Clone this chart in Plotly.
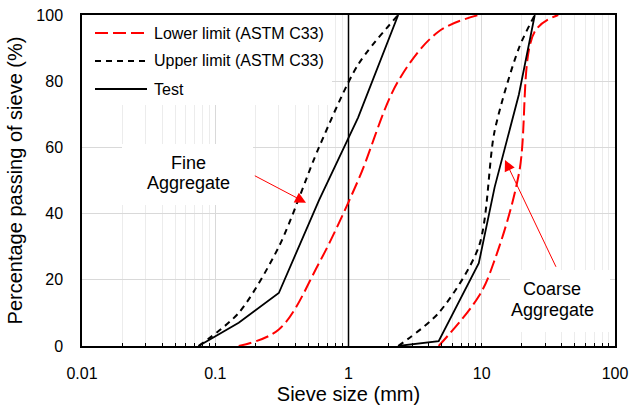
import math
import plotly.graph_objects as go

# Sieve grading data (sieve opening in mm, percentage passing)
fine_lower_sieve = [0.15, 0.3, 0.6, 1.18, 2.36, 4.75, 9.5]
fine_lower_pass = [0, 5, 25, 50, 80, 95, 100]
coarse_lower_sieve = [4.75, 9.5, 12.5, 19, 25, 37.5]
coarse_lower_pass = [0, 15, 26, 52, 95, 100]

fine_upper_sieve = [0.075, 0.15, 0.3, 0.6, 1.18, 2.36]
fine_upper_pass = [0, 10, 30, 60, 85, 100]
coarse_upper_sieve = [2.36, 4.75, 9.5, 12.5, 19, 25]
coarse_upper_pass = [0, 10, 30, 65, 90, 100]

fine_test_sieve = [0.075, 0.15, 0.3, 0.6, 1.18, 2.36]
fine_test_pass = [0, 7, 16, 44, 69, 100]
coarse_test_sieve = [2.36, 4.75, 9.5, 12.5, 19, 25]
coarse_test_pass = [0, 1.5, 25, 48, 76, 100]

# divider between fine and coarse fractions
divider_sieve = [1, 1]
divider_pass = [0, 100]

x_tick_vals = [0.01, 0.1, 1, 10, 100]
x_tick_text = ["0.01", "0.1", "1", "10", "100"]
y_tick_vals = [0, 20, 40, 60, 80, 100]

series_names = ["Lower limit (ASTM C33)", "Upper limit (ASTM C33)", "Test"]

FONT = "Liberation Sans, Arial, sans-serif"
RED = "#ff0000"

LOWER_LINE = dict(color=RED, width=2, dash="13px,5px")
UPPER_LINE = dict(color="black", width=2, dash="6px,5px")
TEST_LINE = dict(color="black", width=1.8)

# plot-area geometry in pixels
W, H = 631, 410
L, R, T, B = 82, 16, 15, 64
PW, PH = W - L - R, H - T - B
X_LOG_MIN, X_LOG_MAX = -2, 2


def px(xp):
    return (xp - L) / PW


def py(yp):
    return (H - B - yp) / PH


def to_data_x(xp):
    return 10 ** (X_LOG_MIN + px(xp) * (X_LOG_MAX - X_LOG_MIN))


def to_data_y(yp):
    return py(yp) * 100


def joined(xa, ya, xb, yb):
    return xa + [None] + xb, ya + [None] + yb


fig = go.Figure()

# white panels behind legend and labels: hide gridlines, stay under the curves
for x0, x1, y0, y1 in [(82, 332, 15, 105), (122, 253, 144, 205), (510, 610, 270, 332)]:
    bx = [to_data_x(v) for v in (x0, x1, x1, x0, x0)]
    by = [to_data_y(v) for v in (y0, y0, y1, y1, y0)]
    fig.add_trace(go.Scatter(x=bx, y=by, mode="lines", fill="toself",
                             fillcolor="white", line=dict(width=0, color="white"),
                             showlegend=False, hoverinfo="skip"))

lx, ly = joined(fine_lower_sieve, fine_lower_pass, coarse_lower_sieve, coarse_lower_pass)
ux, uy = joined(fine_upper_sieve, fine_upper_pass, coarse_upper_sieve, coarse_upper_pass)
tx, ty = joined(fine_test_sieve, fine_test_pass, coarse_test_sieve, coarse_test_pass)

fig.add_trace(go.Scatter(x=divider_sieve, y=divider_pass, mode="lines",
                         line=dict(color="black", width=1.5), showlegend=False,
                         hoverinfo="skip"))
fig.add_trace(go.Scatter(x=lx, y=ly, mode="lines", name=series_names[0],
                         line=dict(shape="spline", smoothing=1, **LOWER_LINE),
                         connectgaps=False, showlegend=False))
fig.add_trace(go.Scatter(x=ux, y=uy, mode="lines", name=series_names[1],
                         line=dict(shape="spline", smoothing=0.8, **UPPER_LINE),
                         connectgaps=False, showlegend=False))
fig.add_trace(go.Scatter(x=tx, y=ty, mode="lines", name=series_names[2],
                         line=TEST_LINE, connectgaps=False, showlegend=False))

shapes = []
annotations = []
# legend
legend_styles = [LOWER_LINE, UPPER_LINE, TEST_LINE]
for i, (name, style) in enumerate(zip(series_names, legend_styles)):
    yrow = 33 + i * 28
    shapes.append(dict(type="line", xref="paper", yref="paper",
                       x0=px(95), x1=px(147), y0=py(yrow), y1=py(yrow),
                       line=style, layer="above"))
    annotations.append(dict(xref="paper", yref="paper", x=px(152), y=py(yrow),
                            xanchor="left", yanchor="middle", showarrow=False,
                            text=name, font=dict(family=FONT, size=16, color="black")))

# region labels
for text, cx, cy in [("Fine", 188, 163), ("Aggregate", 188, 183),
                     ("Coarse", 552, 289), ("Aggregate", 552, 310)]:
    annotations.append(dict(xref="paper", yref="paper", x=px(cx), y=py(cy),
                            xanchor="center", yanchor="middle", showarrow=False,
                            text=text, font=dict(family=FONT, size=18, color="black")))

# arrows pointing at the two grading bands (log axis: x given as log10)
for tip_x, tip_y, ax, ay in [(0.48, 43.3, -52.7, -27.7), (14.94, 56.2, 51.7, 108.3)]:
    annotations.append(dict(x=math.log10(tip_x), y=tip_y, xref="x", yref="y",
                            ax=ax, ay=ay, axref="pixel", ayref="pixel", text="",
                            showarrow=True, arrowhead=2, arrowsize=2.2,
                            arrowwidth=1, arrowcolor=RED))

fig.update_layout(
    width=W, height=H,
    margin=dict(l=L, r=R, t=T, b=B, pad=0),
    paper_bgcolor="white", plot_bgcolor="white",
    font=dict(family=FONT, size=16, color="black"),
    shapes=shapes, annotations=annotations,
    showlegend=False,
)

fig.update_xaxes(
    type="log", range=[X_LOG_MIN, X_LOG_MAX], tickvals=x_tick_vals, ticktext=x_tick_text,
    showgrid=True, gridcolor="#d9d9d9", gridwidth=1,
    minor=dict(dtick="D1", showgrid=True, gridcolor="#ececec", gridwidth=1,
               ticks="inside", ticklen=3, tickcolor="black"),
    ticks="inside", ticklen=3, tickcolor="black",
    showline=True, linecolor="black", linewidth=1.5, mirror=True,
    zeroline=False, ticklabelstandoff=12,
    tickfont=dict(family=FONT, size=16),
    title=dict(text="Sieve size (mm)", font=dict(family=FONT, size=20), standoff=6),
    automargin=False,
)
fig.update_yaxes(
    range=[0, 100], tickvals=y_tick_vals,
    showgrid=True, gridcolor="#d9d9d9", gridwidth=1,
    ticks="", showline=True, linecolor="black", linewidth=1.5, mirror=True,
    zeroline=False, ticklabelstandoff=14,
    tickfont=dict(family=FONT, size=16),
    title=dict(text="Percentage passing of sieve (%)", font=dict(family=FONT, size=20),
               standoff=8),
    automargin=False,
)

fig.write_html("out.html")
